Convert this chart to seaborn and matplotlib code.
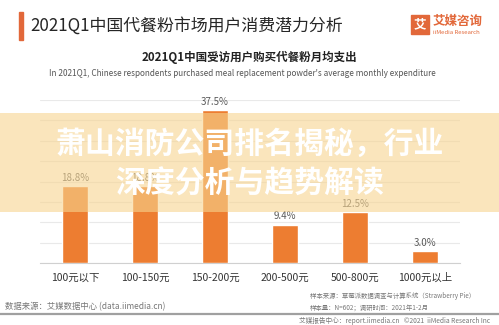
import matplotlib
matplotlib.use("Agg")
import matplotlib.pyplot as plt
import seaborn as sns
import pandas as pd
from matplotlib.patches import Rectangle

categories = ["100元以下", "100-150元", "150-200元", "200-500元", "500-800元", "1000元以上"]
values = [18.8, 18.8, 37.5, 9.4, 12.5, 3.0]
value_labels = ["18.8%", "18.8%", "37.5%", "9.4%", "12.5%", "3.0%"]

title = "2021Q1中国代餐粉市场用户消费潜力分析"
subtitle = "2021Q1中国受访用户购买代餐粉月均支出"
subtitle_en = "In 2021Q1, Chinese respondents purchased meal replacement powder's average monthly expenditure"
overlay_lines = ["萧山消防公司排名揭秘，行业", "深度分析与趋势解读"]

sns.set_theme(style="white")
plt.rcParams["font.family"] = ["Noto Sans CJK SC", "DejaVu Sans"]

W, H = 499, 325
fig = plt.figure(figsize=(W / 100, H / 100), dpi=100)
fig.patch.set_facecolor("white")

def fx(x):
    return x / W

def fy(y):
    return 1 - y / H

ax = fig.add_axes([fx(40), fy(263), fx(420), (263 - 100) / H])
df = pd.DataFrame({"cat": categories, "val": values})
sns.barplot(data=df, x="cat", y="val", color="#ED7D31", width=0.38, ax=ax,
            saturation=1, zorder=3)
ax.set_ylim(0, 40)
ax.set_xlim(-0.5, 5.5)
ax.set_yticks(range(0, 41, 5))
ax.yaxis.grid(True, color="#e9e9e9", linewidth=0.8, zorder=0)
ax.set_yticklabels([])
ax.tick_params(axis="y", length=0)
ax.tick_params(axis="x", length=0, labelsize=7.5, colors="#333333", pad=7)
ax.set_xlabel("")
ax.set_ylabel("")
for s in ["top", "right", "left"]:
    ax.spines[s].set_visible(False)
ax.spines["bottom"].set_color("#d0d0d0")
ax.spines["bottom"].set_linewidth(0.8)
for i, (v, lab) in enumerate(zip(values, value_labels)):
    ax.text(i, v + 0.8, lab, ha="center", va="bottom", fontsize=7, color="#595959")

# header
fig.patches.append(Rectangle((fx(19), fy(40)), fx(4), 28 / H, transform=fig.transFigure,
                             color="#E2683A", zorder=5))
fig.text(fx(30), fy(26), title, fontsize=12.2, color="#262626", va="center", ha="left")
fig.text(0.5, fy(57), subtitle, fontsize=8.3, fontweight="bold", color="#222222",
         va="center", ha="center")
fig.text(fx(242), fy(73), subtitle_en, fontsize=5.9, color="#555555", va="center", ha="center")

# logo
fig.patches.append(Rectangle((fx(411), fy(34)), fx(18), 19 / H, transform=fig.transFigure,
                             color="#E2683A", zorder=5))
fig.text(fx(420), fy(24.5), "艾", fontsize=9, fontweight="bold", color="white",
         ha="center", va="center", zorder=6)
fig.text(fx(433), fy(21), "艾媒咨询", fontsize=9, fontweight="bold", color="#E2683A",
         ha="left", va="center")
fig.text(fx(433), fy(32), "iiMedia Research", fontsize=4.3, color="#E2683A",
         ha="left", va="center")

# overlay band
fig.patches.append(Rectangle((0, fy(212)), 1, 99 / H, transform=fig.transFigure,
                             facecolor=(247 / 255, 212 / 255, 144 / 255), alpha=0.6,
                             edgecolor="none", zorder=10))
fig.text(0.5, fy(144), overlay_lines[0], fontsize=21.5, fontweight="bold", color="white",
         ha="center", va="center", zorder=11)
fig.text(0.5, fy(184), overlay_lines[1], fontsize=21.5, fontweight="bold", color="white",
         ha="center", va="center", zorder=11)

# footer
fig.text(fx(5), fy(307), "数据来源：艾媒数据中心 (data.iimedia.cn)", fontsize=6,
         color="#777777", ha="left", va="center")
fig.text(fx(310), fy(296), "样本来源：草莓派数据调查与计算系统（Strawberry Pie）", fontsize=4.6,
         color="#777777", ha="left", va="center")
fig.text(fx(310), fy(308), "样本量：N=602；调研时间：2021年1-2月", fontsize=4.6,
         color="#777777", ha="left", va="center")
fig.add_artist(plt.Line2D([0, 1], [fy(314), fy(314)], transform=fig.transFigure,
                          color="#a0a0a0", linewidth=1.6))
fig.text(fx(490), fy(320.5), "艾媒报告中心：report.iimedia.cn   ©2021  iiMedia Research Inc",
         fontsize=4.8, color="#777777", ha="right", va="center")

fig.savefig("out.png", dpi=100)
